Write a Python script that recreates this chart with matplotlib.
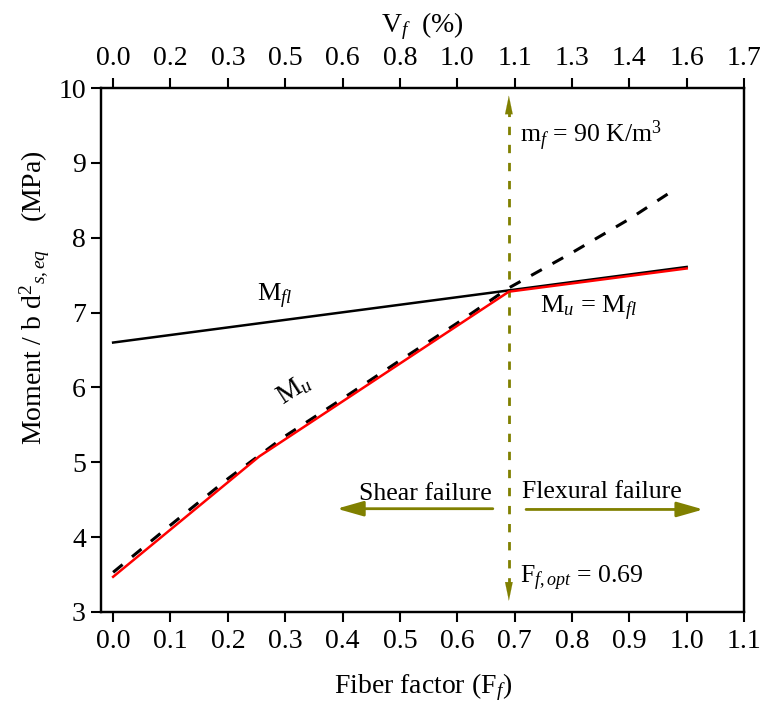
import numpy as np
import matplotlib
matplotlib.use("Agg")
from matplotlib import pyplot as plt

plt.rcParams['font.family'] = ['Liberation Serif', 'DejaVu Serif']
plt.rcParams['mathtext.fontset'] = 'custom'
plt.rcParams['mathtext.rm'] = 'Liberation Serif'
plt.rcParams['mathtext.it'] = 'Liberation Serif:italic'

# data
F_fl = [0.0, 1.0]
M_fl = [6.6, 7.61]

F_u_design = [0.0, 0.255, 0.69, 1.0]
M_u_design = [3.47, 5.08, 7.28, 7.59]

F_u = [0.0, 0.1, 0.2, 0.3, 0.4, 0.5, 0.6, 0.69, 0.8, 0.9, 0.97]
M_u = [3.53, 4.16, 4.78, 5.35, 5.85, 6.36, 6.86, 7.33, 7.8, 8.25, 8.6]

F_opt = 0.69
bottom_ticks = [0.0, 0.1, 0.2, 0.3, 0.4, 0.5, 0.6, 0.7, 0.8, 0.9, 1.0, 1.1]
top_labels = ['0.0', '0.2', '0.3', '0.5', '0.6', '0.8', '1.0', '1.1', '1.3', '1.4', '1.6', '1.7']
y_ticks = [3, 4, 5, 6, 7, 8, 9, 10]

olive = '#808000'
fs = 20     # ticks and axis titles
fa = 18.5   # annotations

fig = plt.figure(figsize=(7.6, 7.08), dpi=100)
ax = fig.add_axes([0.133, 0.1356, 0.846, 0.74])

ax.plot(F_u, M_u, color='black', lw=2.2, dashes=(4, 4), zorder=3)
ax.plot(F_fl, M_fl, color='black', lw=1.8, zorder=3)
ax.plot(F_u_design, M_u_design, color='red', lw=1.8, zorder=4)

# optimum fiber factor line
ax.plot([F_opt, F_opt], [3.35, 9.72], color=olive, lw=2, dashes=(3, 3.5), zorder=2)
vhead = dict(arrowstyle='-|>,head_length=1.2,head_width=0.25', color=olive, lw=0.1,
             mutation_scale=11, shrinkA=0, shrinkB=0)
ax.annotate('', xy=(F_opt, 9.9), xytext=(F_opt, 9.72), arrowprops=vhead)
ax.annotate('', xy=(F_opt, 3.15), xytext=(F_opt, 3.35), arrowprops=vhead)

# failure mode arrows
hhead = dict(arrowstyle='-|>,head_length=0.95,head_width=0.27', color=olive, lw=2,
             mutation_scale=17, shrinkA=0, shrinkB=0)
ax.annotate('', xy=(0.39, 4.38), xytext=(0.662, 4.38), arrowprops=hhead)
ax.annotate('', xy=(1.029, 4.37), xytext=(0.72, 4.37), arrowprops=hhead)

ax.text(0.545, 4.58, 'Shear failure', fontsize=fa, ha='center', va='center')
ax.text(0.852, 4.6, 'Flexural failure', fontsize=fa, ha='center', va='center')
ax.text(0.71, 3.45, r'F$_{\mathit{f,opt}}$ = 0.69', fontsize=fa, ha='left', va='center')
ax.text(0.71, 9.37, r'm$_{\mathit{f}}$ = 90 K/m$^{3}$', fontsize=fa, ha='left', va='center')
ax.text(0.25, 7.22, r'M$_{\mathit{fl}}$', fontsize=19, ha='left', va='center')
ax.text(0.745, 7.05, r'M$_{\mathit{u}}$ = M$_{\mathit{fl}}$', fontsize=19, ha='left', va='center')
ax.text(0.315, 5.97, r'M$_{\mathit{u}}$', fontsize=20, ha='center', va='center', rotation=33)

ax.set_xlim(-0.021, 1.1)
ax.set_ylim(3, 10)
ax.set_xticks(bottom_ticks)
ax.set_xticklabels([f'{t:.1f}' for t in bottom_ticks])
ax.set_yticks(y_ticks)
ax.tick_params(axis='both', direction='out', length=7, width=1.5, labelsize=fs, right=False, top=False)
ax.tick_params(axis='x', pad=5)
ax.tick_params(axis='y', pad=4)
ax.set_xlabel(r'Fiber factor (F$_{\mathit{f}}$)', fontsize=fs, labelpad=13)
ax.set_ylabel(r'Moment / b d$^{2}$$_{\mathit{s,eq}}$    (MPa)', fontsize=fs)
ax.yaxis.set_label_coords(-0.077, 0.6)
for s in ax.spines.values():
    s.set_linewidth(1.6)

ax2 = ax.twiny()
ax2.set_xlim(ax.get_xlim())
ax2.set_xticks(bottom_ticks)
ax2.set_xticklabels(top_labels)
ax2.tick_params(axis='x', direction='out', length=7, width=1.5, labelsize=fs, pad=5)
ax2.set_xlabel(r'V$_{\mathit{f}}$  (%)', fontsize=fs, labelpad=10)
for s in ax2.spines.values():
    s.set_linewidth(1.6)

fig.savefig('out.png', dpi=100)
